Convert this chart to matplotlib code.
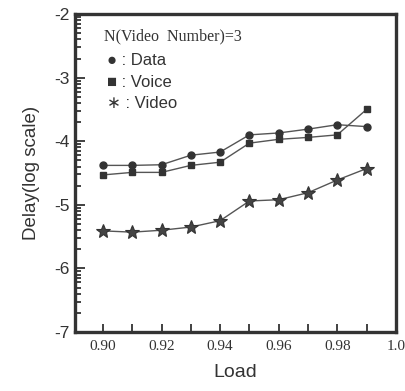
import numpy as np
import matplotlib
matplotlib.use('Agg')
import matplotlib.pyplot as plt
from matplotlib.ticker import FixedLocator

# load values and log10 delay
load = [0.90, 0.91, 0.92, 0.93, 0.94, 0.95, 0.96, 0.97, 0.98, 0.99]
data_delay = [-4.38, -4.38, -4.37, -4.22, -4.17, -3.90, -3.87, -3.81, -3.74, -3.77]
voice_delay = [-4.53, -4.49, -4.49, -4.38, -4.33, -4.03, -3.97, -3.94, -3.90, -3.50]
video_delay = [-5.41, -5.43, -5.40, -5.35, -5.25, -4.94, -4.92, -4.81, -4.61, -4.43]

xtick_pos = [0.90, 0.92, 0.94, 0.96, 0.98, 1.0]
xtick_labels = ['0.90', '0.92', '0.94', '0.96', '0.98', '1.0']
ytick_pos = [-2, -3, -4, -5, -6, -7]

ink = '#333333'
sans = 'Liberation Sans'
serif = 'Liberation Serif'

fig = plt.figure(figsize=(4.06, 3.91), dpi=100)
ax = fig.add_axes([0.185, 0.151, 0.79, 0.813])

ax.plot(load, data_delay, color='#555555', lw=1.0, marker='o', ms=5,
        markerfacecolor=ink, markeredgecolor=ink)
ax.plot(load, voice_delay, color='#555555', lw=1.0, marker='s', ms=5,
        markerfacecolor=ink, markeredgecolor=ink)
ax.plot(load, video_delay, color='#555555', lw=1.0, marker='*', ms=10,
        markerfacecolor='#444444', markeredgecolor=ink, markeredgewidth=0.8)

ax.set_xlim(0.8905, 1.0)
ax.set_ylim(-7, -2)

ax.set_xticks(xtick_pos)
ax.set_xticklabels(xtick_labels, fontfamily=serif, fontsize=11, color=ink)
ax.xaxis.set_minor_locator(FixedLocator(np.arange(0.91, 0.995, 0.02)))
ax.set_yticks(ytick_pos)
ax.set_yticklabels([str(v) for v in ytick_pos], fontfamily=sans, fontsize=12.5, color=ink)
# log style minor ticks on the exponent axis
minor = [d + np.log10(k) for d in range(-7, -2) for k in range(2, 10)]
ax.yaxis.set_minor_locator(FixedLocator(minor))

ax.tick_params(axis='both', which='both', direction='in', color=ink, width=1.3)
ax.tick_params(axis='x', which='both', length=6, pad=6)
ax.tick_params(axis='y', which='major', length=7, pad=4)
ax.tick_params(axis='y', which='minor', length=4)

for s in ax.spines.values():
    s.set_linewidth(2.4)
    s.set_color(ink)

ax.set_xlabel('Load', fontfamily=sans, fontsize=14, color=ink, labelpad=8)
ax.set_ylabel('Delay(log scale)', fontfamily=sans, fontsize=13.5, color=ink, labelpad=10)

ax.text(0.09, 0.93, 'N(Video  Number)=3', transform=ax.transAxes,
        fontfamily=serif, fontsize=11.5, color=ink, va='center')
ax.text(0.10, 0.855, '\u25cf : Data', transform=ax.transAxes,
        fontfamily=[sans, 'DejaVu Sans'], fontsize=12, color=ink, va='center')
ax.text(0.10, 0.785, '\u25a0 : Voice', transform=ax.transAxes,
        fontfamily=[sans, 'DejaVu Sans'], fontsize=12, color=ink, va='center')
ax.text(0.10, 0.718, '\u2217 : Video', transform=ax.transAxes,
        fontfamily=[sans, 'DejaVu Sans'], fontsize=12, color=ink, va='center')

plt.savefig('out.png', dpi=100)
